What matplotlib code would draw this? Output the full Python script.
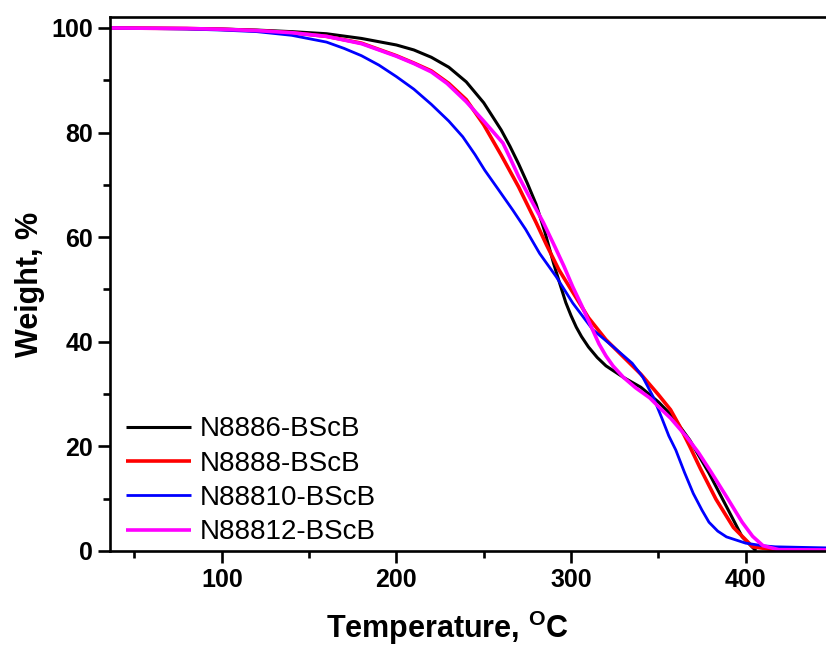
import numpy as np
import matplotlib
matplotlib.use("Agg")
import matplotlib.pyplot as plt
from matplotlib.ticker import MultipleLocator

plt.rcParams["font.family"] = ["Liberation Sans", "DejaVu Sans"]
plt.rcParams["mathtext.fontset"] = "custom"
plt.rcParams["mathtext.rm"] = "Liberation Sans:bold"
plt.rcParams["mathtext.bf"] = "Liberation Sans:bold"
plt.rcParams["mathtext.default"] = "bf"

# TGA curves
temp_n8886 = [36, 60, 80, 100, 120, 140, 160, 180, 200, 210, 220, 230, 240, 250, 260, 265, 270,
              275, 280, 285, 290, 293.5, 297, 300, 303, 306, 310, 315, 320, 330, 340, 350, 358,
              368, 379, 389, 398, 406]
wt_n8886 = [100, 99.95, 99.9, 99.8, 99.6, 99.3, 98.9, 98.0, 96.75, 95.8, 94.4, 92.5, 89.7, 85.7,
            80.5, 77.4, 74.0, 70.3, 66.3, 61.0, 55.0, 51.2, 47.5, 45.0, 42.8, 41.0, 39.0, 37.0,
            35.4, 33.2, 31.3, 28.5, 25.8, 21.2, 14.9, 8.5, 2.7, 0.0]

temp_n8888 = [36, 80, 100, 120, 140, 160, 180, 200, 210, 220, 230, 240, 250, 260, 270, 280, 286,
              293, 300, 310, 320, 330, 340, 350, 357, 362, 368, 374, 383, 393, 404, 415, 446]
wt_n8888 = [100, 99.9, 99.75, 99.5, 99.1, 98.4, 97.1, 94.7, 93.3, 91.8, 89.4, 86.3, 81.5, 75.7,
            69.6, 62.8, 58.5, 53.8, 50.0, 44.6, 40.4, 37.1, 33.8, 29.9, 27.0, 24.0, 20.0, 15.8,
            9.9, 4.5, 0.8, 0.3, 0.25]

temp_n88810 = [36, 80, 100, 120, 140, 160, 170, 180, 190, 200, 210, 220, 230, 238, 245, 250.6,
               258, 266.6, 274, 282, 291.6, 301, 312.5, 324, 335, 341, 347, 352, 356, 360, 365,
               370, 375, 379, 384, 389, 400, 410, 417, 431, 446]
wt_n88810 = [100, 99.8, 99.6, 99.3, 98.6, 97.3, 96.1, 94.7, 92.9, 90.7, 88.3, 85.4, 82.2, 79.2,
             75.8, 72.8, 69.3, 65.2, 61.5, 56.9, 52.4, 47.4, 42.3, 39.1, 35.9, 33.3, 29.5, 25.4,
             22.0, 19.3, 15.0, 11.0, 7.8, 5.5, 3.8, 2.7, 1.5, 1.0, 0.8, 0.7, 0.6]

temp_n88812 = [36, 80, 100, 120, 140, 160, 180, 200, 210, 220, 229, 240, 250, 261, 265, 270, 277,
               284, 291, 296, 301, 306, 311, 316, 320, 324, 330, 337, 345, 351, 357, 366, 373,
               380, 389, 398, 404, 410, 419, 446]
wt_n88812 = [100, 99.9, 99.75, 99.5, 99.1, 98.4, 97.0, 94.6, 93.2, 91.6, 89.4, 85.9, 82.2, 78.0,
             75.2, 71.6, 67.2, 62.9, 58.0, 54.4, 50.5, 47.0, 43.3, 39.6, 37.3, 35.4, 33.2, 31.2,
             29.3, 27.3, 25.4, 21.9, 18.8, 15.2, 10.4, 5.5, 2.8, 1.0, 0.25, 0.2]

series = [
    ("N8886-BScB", temp_n8886, wt_n8886, "black", 2.2),
    ("N8888-BScB", temp_n8888, wt_n8888, "red", 2.6),
    ("N88810-BScB", temp_n88810, wt_n88810, "blue", 2.0),
    ("N88812-BScB", temp_n88812, wt_n88812, "magenta", 2.6),
]

fig = plt.figure(figsize=(8.26, 6.5), dpi=100)
ax = fig.add_axes([110 / 826, 99 / 650, (826 - 110) / 826, (551 - 17) / 650])

for label, t, w, color, lw in series:
    ax.plot(t, w, color=color, lw=lw, label=label, solid_capstyle="butt")

ax.set_xlim(36, 446)
ax.set_ylim(0, 102.1)
ax.xaxis.set_major_locator(MultipleLocator(100))
ax.xaxis.set_minor_locator(MultipleLocator(50))
ax.yaxis.set_major_locator(MultipleLocator(20))
ax.yaxis.set_minor_locator(MultipleLocator(10))

ax.spines["right"].set_visible(False)
for s in ["left", "bottom", "top"]:
    ax.spines[s].set_linewidth(1.9)
ax.tick_params(which="major", direction="out", length=8.5, width=1.9, labelsize=18)
ax.tick_params(which="minor", direction="out", length=5, width=1.9)
ax.tick_params(top=False, right=False, which="both")
for lbl in ax.get_xticklabels() + ax.get_yticklabels():
    lbl.set_fontweight("bold")

ax.set_xlabel(r"Temperature, $^{\mathbf{O}}$C", fontsize=22, fontweight="bold", labelpad=12)
ax.set_ylabel("Weight, %", fontsize=22, fontweight="bold", labelpad=5)
ax.xaxis.label.set_x(0.471)

ax.legend(loc="lower left", bbox_to_anchor=(-0.005, -0.026), frameon=False, fontsize=20,
          handlelength=2.35, handletextpad=0.3, labelspacing=0.3, borderaxespad=0.3)

fig.savefig("out.png", dpi=100)
